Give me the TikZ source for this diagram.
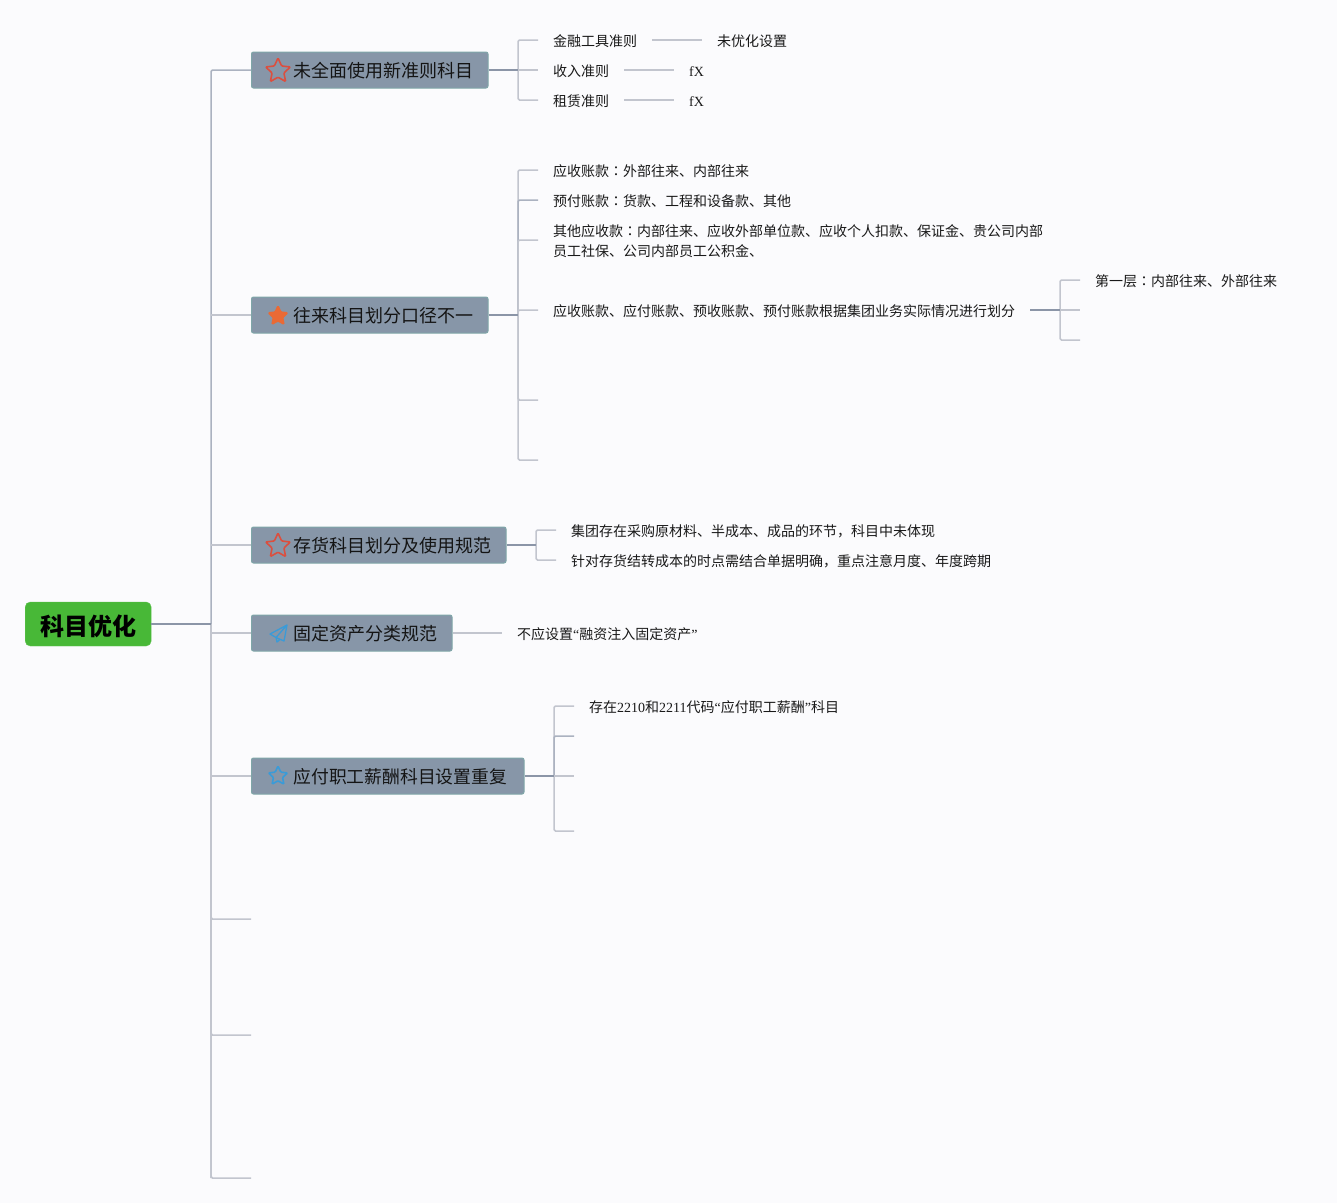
\documentclass[tikz,border=0pt]{standalone}
\usepackage{fontspec}
\usetikzlibrary{shapes.geometric}
\setmainfont{Liberation Serif}
\newfontfamily\cjk{Noto Sans CJK SC}
\newfontfamily\cjktc{Noto Sans CJK TC}
\newcommand{\colonmark}{{\cjktc ：}}
\definecolor{bgc}{HTML}{FBFBFD}
\definecolor{lightline}{HTML}{C2C5CE}
\definecolor{midline}{HTML}{ABB2C0}
\definecolor{darkline}{HTML}{8B95A7}
\definecolor{boxfill}{HTML}{8796A8}
\definecolor{boxedge}{HTML}{7FA6A8}
\definecolor{rootfill}{HTML}{48B837}
\definecolor{redstar}{HTML}{DB4F3F}
\definecolor{orangestar}{HTML}{E96A35}
\definecolor{bluestar}{HTML}{3A9BD8}
\tikzset{
  branchbox/.style={draw=boxedge,fill=boxfill,line width=1pt,rounded corners=2pt,anchor=west,
    minimum height=36pt,inner xsep=0pt,inner ysep=0pt,align=left,text=black!92,
    text height=18pt,text depth=3.3pt,
    font=\fontsize{18}{22}\selectfont\cjk},
  rootbox/.style={fill=rootfill,draw=rootfill!85!white,rounded corners=5pt,anchor=west,
    minimum width=126pt,minimum height=44pt,inner sep=0pt,text=black,
    text height=26pt,text depth=3.8pt,
    font=\fontsize{24}{28}\selectfont\cjk\bfseries},
  leaf/.style={anchor=west,inner xsep=15pt,inner ysep=2pt,align=left,text=black!90,
    text height=15pt,text depth=2.4pt,
    font=\fontsize{14}{20}\selectfont\cjk},
  leafwide/.style={anchor=west,inner xsep=15pt,inner ysep=2pt,align=left,text=black!90,
    font=\fontsize{14}{20}\selectfont\cjk},
  conn/.style={draw=lightline,line width=1.5pt,rounded corners=1.5pt},
  spine/.style={draw=midline,line width=1.5pt,rounded corners=1.5pt},
  strong/.style={draw=darkline,line width=1.6pt},
  staricon/.style={star,star points=5,star point ratio=2.1,minimum size=#1,inner sep=0pt,
    rounded corners=1pt,line width=1.6pt},
}
\begin{document}
\begin{tikzpicture}[x=1pt,y=-1pt]
\useasboundingbox (0,0) rectangle (1337,1203);
\fill[bgc] (0,0) rectangle (1337,1203);

% junctions and free ends
\coordinate (t0) at (211,624);
\coordinate (t1) at (211,70);
\coordinate (tend) at (211,1178);
\coordinate (t6) at (251,919);
\coordinate (t7) at (251,1035);
\coordinate (t8) at (251,1178);
\coordinate (j1) at (518,70);
\coordinate (j2) at (518,315);
\coordinate (j3) at (536,545);
\coordinate (j5) at (554,776);
\coordinate (j6) at (1060,310);
\coordinate (e25) at (538,400);
\coordinate (e26) at (538,460);
\coordinate (e52) at (574,736);
\coordinate (e53) at (574,776);
\coordinate (e54) at (574,831);
\coordinate (e62) at (1080,310);
\coordinate (e63) at (1080,340);

% boxes
\node[rootbox] (root) at (25,624) {科目优化};
\node[branchbox,text width=236.5pt,minimum width=236.5pt] (b1) at (251,70) {\hspace*{42pt}未全面使用新准则科目};
\node[branchbox,text width=236.5pt,minimum width=236.5pt] (b2) at (251,315) {\hspace*{42pt}往来科目划分口径不一};
\node[branchbox,text width=254.5pt,minimum width=254.5pt] (b3) at (251,545) {\hspace*{42pt}存货科目划分及使用规范};
\node[branchbox,text width=200.5pt,minimum width=200.5pt] (b4) at (251,633) {\hspace*{42pt}固定资产分类规范};
\node[branchbox,text width=272.5pt,minimum width=272.5pt,font=\fontsize{17.8}{22}\selectfont\cjk] (b5) at (251,776) {\hspace*{42pt}应付职工薪酬科目设置重复};

% icons
\node[staricon=26pt,draw=redstar] (s1) at (278,71) {};
\node[staricon=20pt,draw=orangestar,fill=orangestar] (s2) at (278,316) {};
\node[staricon=26pt,draw=redstar] (s3) at (278,546) {};
\node[staricon=20pt,draw=bluestar] (s5) at (278,776) {};
\draw[bluestar,line width=1.3pt,line join=round]
  (287,625) -- (270,634) -- (276,637.5) -- (287,625) -- (284,641) -- (276,637.5) -- (277,642) -- (280.5,639);

% leaves
\node[leaf] (l11) at (538,40) {金融工具准则};
\node[leaf] (l12) at (538,70) {收入准则};
\node[leaf] (l13) at (538,100) {租赁准则};
\node[leaf] (m11) at (702,40) {未优化设置};
\node[leaf] (m12) at (674,70) {\rmfamily fX};
\node[leaf] (m13) at (674,100) {\rmfamily fX};

\node[leaf] (l21) at (538,170) {应收账款\colonmark 外部往来、内部往来};
\node[leaf] (l22) at (538,200) {预付账款\colonmark 货款、工程和设备款、其他};
\node[leafwide] (l23) at (538,241) {其他应收款\colonmark 内部往来、应收外部单位款、应收个人扣款、保证金、贵公司内部\\员工社保、公司内部员工公积金、};
\node[leaf] (l24) at (538,310) {应收账款、应付账款、预收账款、预付账款根据集团业务实际情况进行划分};
\node[leaf] (l25) at (1080,280) {第一层\colonmark 内部往来、外部往来};

\node[leaf] (l31) at (556,530) {集团存在采购原材料、半成本、成品的环节，科目中未体现};
\node[leaf] (l32) at (556,560) {针对存货结转成本的时点需结合单据明确，重点注意月度、年度跨期};
\node[leaf] (l41) at (502,633) {不应设置\rmfamily“\cjk 融资注入固定资产\rmfamily”};
\node[leaf] (l51) at (574,706) {存在\rmfamily 2210\cjk 和\rmfamily 2211\cjk 代码\rmfamily“\cjk 应付职工薪酬\rmfamily”\cjk 科目};

% connectors: trunk
\draw[spine] (b1.west) -- (t1) -- (tend);
\draw[conn] (t0 |- b2.west) -- (b2.west);
\draw[conn] (t0 |- b3.west) -- (b3.west);
\draw[conn] (t0 |- b4.west) -- (b4.west);
\draw[conn] (t0 |- b5.west) -- (b5.west);
\draw[conn] (t0) |- (t6);
\draw[conn] (t0) |- (t7);
\draw[conn] (t0) |- (t8);
\draw[strong] (root.east) -- (t0);

% connectors: first group
\draw[conn] (j1) |- (l11.west);
\draw[conn] (j1) -- (l12.west);
\draw[conn] (j1) |- (l13.west);
\draw[strong] (b1.east) -- (j1);
\draw[conn] (l11.east) -- (m11.west);
\draw[conn] (l12.east) -- (m12.west);
\draw[conn] (l13.east) -- (m13.west);

% connectors: second group
\draw[conn] (j2) |- (l21.west);
\draw[spine] (j2) |- (l22.west);
\draw[conn] (j2) |- ([yshift=1pt]l23.west);
\draw[conn] (j2) |- (l24.west);
\draw[conn] (j2) |- (e25);
\draw[conn] (j2) |- (e26);
\draw[strong] (b2.east) -- (j2);
\draw[conn] (j6) |- (l25.west);
\draw[conn] (j6) -- (e62);
\draw[conn] (j6) |- (e63);
\draw[strong] (l24.east) -- (j6);

% connectors: third group
\draw[conn] (j3) |- (l31.west);
\draw[conn] (j3) |- (l32.west);
\draw[strong] (b3.east) -- (j3);

% connectors: fourth group
\draw[conn] (b4.east) -- (l41.west);

% connectors: fifth group
\draw[conn] (j5) |- (l51.west);
\draw[spine] (j5) |- (e52);
\draw[conn] (j5) -- (e53);
\draw[conn] (j5) |- (e54);
\draw[strong] (b5.east) -- (j5);
\end{tikzpicture}
\end{document}
